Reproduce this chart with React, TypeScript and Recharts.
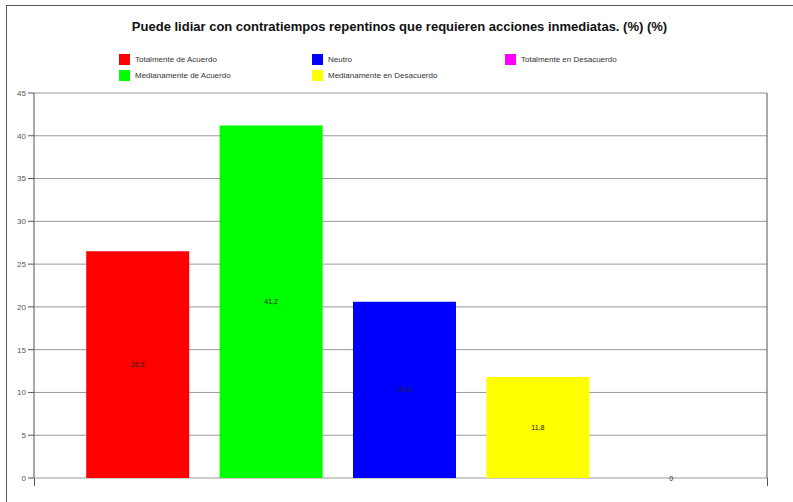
import { ComposedChart, Bar, Line, XAxis, YAxis, CartesianGrid, Cell, LabelList } from 'recharts'

const CATEGORIAS = [
  'Totalmente de Acuerdo',
  'Medianamente de Acuerdo',
  'Neutro',
  'Medianamente en Desacuerdo',
  'Totalmente en Desacuerdo',
]
const VALORES = [26.5, 41.2, 20.6, 11.8, 0]
const COLORES = ['#ff0000', '#00ff00', '#0000ff', '#ffff00', '#ff00ff']
const TICKS = [0, 5, 10, 15, 20, 25, 30, 35, 40, 45]

// leyenda en columnas: [rojo, verde], [azul, amarillo], [magenta]
const LEYENDA_COLS = [[0, 1], [2, 3], [4]]

const TITULO = 'Puede lidiar con contratiempos repentinos que requieren acciones inmediatas. (%) (%)'

const data = CATEGORIAS.map((nombre, i) => ({ nombre, valor: VALORES[i] }))

const fmt = (v: any) => String(v).replace('.', ',')
const font = 'Arial, "Liberation Sans", sans-serif'

// las barras de altura cero no reciben etiqueta: se dibuja sobre la línea base
function EtiquetaCero(props: any) {
  const { x, y, value } = props
  if (value !== 0) return null
  return (
    <text x={x} y={y} textAnchor="middle" dominantBaseline="central" fill="#222" fontSize={7} fontFamily={font}>
      {fmt(value)}
    </text>
  )
}

export default function App() {
  const tick = { fill: '#555', fontSize: 8, fontFamily: font }
  return (
    <div style={{ position: 'absolute', left: 0, top: 0, width: 793, height: 502, background: '#fff', overflow: 'hidden', fontFamily: font }}>
      {/* marco */}
      <div style={{ position: 'absolute', left: 6, top: 5, right: 0, bottom: 0, borderLeft: '1px solid #555', borderTop: '1px solid #555' }} />

      <div style={{ position: 'absolute', left: 6, right: 0, top: 19, textAlign: 'center', fontSize: 13, fontWeight: 700, color: '#111' }}>
        {TITULO}
      </div>

      {LEYENDA_COLS.map((col, c) => (
        <div key={c} style={{ position: 'absolute', left: 119 + c * 193, top: 51 }}>
          {col.map(i => (
            <div key={i} style={{ display: 'flex', alignItems: 'center', height: 16 }}>
              <div style={{ width: 11, height: 11, background: COLORES[i], marginRight: 5 }} />
              <span style={{ fontSize: 8, color: '#333' }}>{CATEGORIAS[i]}</span>
            </div>
          ))}
        </div>
      ))}

      {/* prolongación de los ejes bajo el cero */}
      <div style={{ position: 'absolute', left: 34, width: 1, top: 478, height: 8, background: '#555' }} />
      <div style={{ position: 'absolute', left: 767, width: 1, top: 478, height: 8, background: '#555' }} />

      <ComposedChart
        width={793}
        height={502}
        data={data}
        margin={{ top: 93, right: 0, left: 0, bottom: 24 }}
        barCategoryGap="11.4%"
        style={{ position: 'absolute', left: 0, top: 0 }}
      >
        <CartesianGrid yAxisId="l" stroke="#999" vertical={false} />
        <XAxis
          dataKey="nombre"
          height={0}
          tick={false}
          tickLine={false}
          padding={{ left: 37, right: 29 }}
          axisLine={{ stroke: '#555' }}
        />
        <YAxis
          yAxisId="l"
          orientation="left"
          width={34}
          domain={[0, 45]}
          ticks={TICKS}
          tick={tick}
          tickSize={6}
          axisLine={{ stroke: '#555' }}
          tickLine={{ stroke: '#555' }}
        />
        <YAxis
          yAxisId="r"
          orientation="right"
          width={26}
          domain={[0, 45]}
          ticks={TICKS}
          tick={tick}
          tickSize={6}
          axisLine={{ stroke: '#555' }}
          tickLine={{ stroke: '#555' }}
        />
        <Bar yAxisId="l" dataKey="valor" isAnimationActive={false}>
          {data.map((d, i) => (
            <Cell key={i} fill={COLORES[i]} />
          ))}
          <LabelList dataKey="valor" position="center" formatter={fmt} fill="#222" fontSize={7} fontFamily={font} />
        </Bar>
        <Line yAxisId="l" dataKey="valor" stroke="none" dot={false} activeDot={false} isAnimationActive={false}>
          <LabelList dataKey="valor" content={EtiquetaCero} />
        </Line>
      </ComposedChart>
    </div>
  )
}
